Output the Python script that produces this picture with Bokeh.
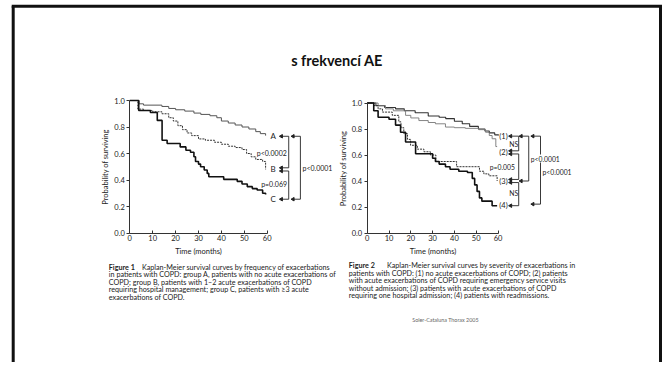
import numpy as np
from bokeh.plotting import figure
from bokeh.models import Range1d, LinearAxis, FixedTicker, PrintfTickFormatter
from bokeh.core.properties import value
from bokeh.embed import file_html
from bokeh.resources import INLINE

# ---------------- data ----------------
TITLE = "s frekvencí AE"
X_TICKS = [0, 10, 20, 30, 40, 50, 60]
Y_TICKS = [0.0, 0.2, 0.4, 0.6, 0.8, 1.0]
X_LABEL = "Time (months)"
Y_LABEL = "Probability of surviving"

# Figure 1 : groups by frequency of exacerbations
f1_A_t = [0, 4, 6, 14, 17, 20, 24, 28, 31, 35, 38, 40, 43, 46, 49, 52, 55, 57, 59.3]
f1_A_s = [1.0, 0.975, 0.965, 0.955, 0.94, 0.93, 0.92, 0.905, 0.895, 0.885, 0.87, 0.845, 0.83, 0.815, 0.80, 0.785, 0.765, 0.75, 0.735]
f1_B_t = [0, 3.5, 6, 10, 14, 17, 19, 21, 23, 25, 27, 30, 33, 37, 40, 43, 46, 49, 51, 53, 55, 58, 59.3, 59.3]
f1_B_s = [1.0, 0.935, 0.925, 0.915, 0.90, 0.87, 0.845, 0.81, 0.78, 0.755, 0.735, 0.71, 0.70, 0.685, 0.67, 0.655, 0.645, 0.63, 0.60, 0.575, 0.555, 0.54, 0.54, 0.48]
f1_C_t = [0, 3.9, 9, 12, 14.1, 16.3, 22, 24.5, 26.5, 28, 28.7, 30, 30.9, 32.5, 33.8, 34.5, 41, 46.9, 49, 51.3, 53.5, 55.6, 58, 59.3]
f1_C_s = [1.0, 0.925, 0.91, 0.85, 0.70, 0.675, 0.65, 0.625, 0.61, 0.575, 0.54, 0.52, 0.50, 0.475, 0.45, 0.425, 0.405, 0.39, 0.37, 0.35, 0.335, 0.325, 0.30, 0.29]
f1_groups = ["A", "B", "C"]
f1_group_level = [0.73, 0.48, 0.255]
f1_pvalues = ["p<0.0002", "p=0.069", "p<0.0001"]

# Figure 2 : groups by severity of exacerbations
f2_1_t = [0, 4, 8, 13, 17, 22, 28, 33, 36, 40, 43.6, 47, 51, 54, 56, 58.5, 60.2]
f2_1_s = [1.0, 0.98, 0.965, 0.955, 0.94, 0.925, 0.90, 0.89, 0.88, 0.86, 0.84, 0.82, 0.80, 0.785, 0.77, 0.755, 0.75]
f2_2_t = [0, 5, 8.4, 12, 17.6, 20, 23.7, 28, 31.3, 35.9, 40, 45, 51.2, 54.3, 56, 57.3, 59, 59.6]
f2_2_s = [1.0, 0.98, 0.955, 0.94, 0.905, 0.885, 0.865, 0.85, 0.84, 0.815, 0.81, 0.805, 0.795, 0.775, 0.75, 0.725, 0.665, 0.665]
f2_3_t = [0, 3, 5, 7, 11.5, 14.5, 15.5, 16.8, 18.5, 19.9, 23, 26, 29, 31.5, 41, 51.5, 53.5, 55.8, 59.6, 59.6]
f2_3_s = [1.0, 0.98, 0.955, 0.93, 0.905, 0.855, 0.81, 0.765, 0.72, 0.675, 0.645, 0.625, 0.60, 0.55, 0.51, 0.475, 0.455, 0.44, 0.44, 0.40]
f2_4_t = [0, 3, 5, 10, 13, 15.3, 17.6, 22.2, 30, 31.3, 33, 35.9, 38, 42, 46, 48.2, 49.3, 50.4, 51.5, 52.6, 57.3, 59.6]
f2_4_s = [1.0, 0.94, 0.89, 0.875, 0.83, 0.775, 0.70, 0.61, 0.575, 0.55, 0.53, 0.51, 0.49, 0.475, 0.465, 0.42, 0.37, 0.32, 0.27, 0.245, 0.21, 0.21]
f2_groups = ["(1)", "(2)", "(3)", "(4)"]
f2_group_level = [0.745, 0.62, 0.40, 0.21]
f2_tests = ["NS", "p=0.005", "NS", "p<0.0001", "p<0.0001"]

caption1_head = "Figure 1"
caption1 = [
    "Kaplan-Meier survival curves by frequency of exacerbations",
    "in patients with COPD: group A, patients with no acute exacerbations of",
    "COPD; group B, patients with 1\u20132 acute exacerbations of COPD",
    "requiring hospital management; group C, patients with \u22653 acute",
    "exacerbations of COPD.",
]
caption2_head = "Figure 2"
caption2 = [
    "Kaplan-Meier survival curves by severity of exacerbations in",
    "patients with COPD: (1) no acute exacerbations of COPD; (2) patients",
    "with acute exacerbations of COPD requiring emergency service visits",
    "without admission; (3) patients with acute exacerbations of COPD",
    "requiring one hospital admission; (4) patients with readmissions.",
]
SOURCE = "Soler-Cataluna Thorax 2005"

# ---------------- layout ----------------
W, H = 667, 362
PX0, PY0 = 0, 0            # page offset of the canvas
FONT = "Lato"
INK = "#222222"

p = figure(width=W, height=H, output_backend="svg", toolbar_location=None,
           x_axis_type=None, y_axis_type=None,
           x_range=Range1d(PX0, PX0 + W), y_range=Range1d(PY0 + H, PY0),
           min_border=0, min_border_left=0, min_border_right=0,
           min_border_top=0, min_border_bottom=0)
p.outline_line_color = None
p.background_fill_color = "white"
p.border_fill_color = "white"

# panel geometry: (origin page x, origin page y, px per month, px per unit prob)
panels = {
    "f1": (129.3, 232.5, 2.29, 132.5),
    "f2": (366.7, 232.5, 2.18, 130.0),
}
for key, (ox, oy, sx, sy) in panels.items():
    p.extra_x_ranges[key + "x"] = Range1d((PX0 - ox) / sx, (PX0 + W - ox) / sx)
    p.extra_y_ranges[key + "y"] = Range1d((oy - (PY0 + H)) / sy, (oy - PY0) / sy)
    xa = LinearAxis(x_range_name=key + "x", y_range_name=key + "y", fixed_location=0,
                    bounds=(X_TICKS[0], X_TICKS[-1]), ticker=FixedTicker(ticks=X_TICKS),
                    axis_label=X_LABEL)
    ya = LinearAxis(x_range_name=key + "x", y_range_name=key + "y", fixed_location=0,
                    bounds=(Y_TICKS[0], Y_TICKS[-1]), ticker=FixedTicker(ticks=Y_TICKS),
                    formatter=PrintfTickFormatter(format="%.1f"), axis_label=Y_LABEL)
    for ax in (xa, ya):
        ax.axis_line_color = "#333333"
        ax.axis_line_width = 1
        ax.major_tick_line_color = "#333333"
        ax.minor_tick_line_color = None
        ax.major_label_text_font = FONT
        ax.major_label_text_font_size = "7.5px"
        ax.major_label_text_color = INK
        ax.axis_label_text_font = FONT
        ax.axis_label_text_font_size = "7.5px"
        ax.axis_label_text_font_style = "normal"
        ax.axis_label_text_color = INK
    xa.major_tick_in, xa.major_tick_out = 3, 0
    xa.major_label_standoff = 2
    xa.axis_label_standoff = 2
    ya.major_tick_in, ya.major_tick_out = 0, 3
    ya.major_label_standoff = 2
    ya.axis_label_standoff = 1
    p.add_layout(xa, "below")
    p.add_layout(ya, "left")


def km(t, s, key, **kw):
    p.step(t, s, mode="after", x_range_name=key + "x", y_range_name=key + "y", **kw)


def txt(x, y, text, size, key=None, align="center", style="normal", color=INK, **extra):
    kw = {}
    if key:
        kw = dict(x_range_name=key + "x", y_range_name=key + "y")
    p.text(x=x, y=y, text=text, text_font=value(FONT), text_font_size=value(size),
           text_align=align, text_baseline="middle", text_color=color,
           text_font_style=style, **kw, **extra)


def bracket(key, tip, bx, y0, y1):
    p.line([tip, bx, bx, tip], [y0, y0, y1, y1], line_color=INK, line_width=0.9,
           x_range_name=key + "x", y_range_name=key + "y")
    p.scatter([tip, tip], [y0, y1], marker="triangle", angle=np.pi / 2, size=3.5,
              color=INK, x_range_name=key + "x", y_range_name=key + "y")


# ---- Figure 1 curves ----
km(f1_A_t, f1_A_s, "f1", line_color="#555555", line_width=1.0)
km(f1_B_t, f1_B_s, "f1", line_color="#333333", line_width=1.0, line_dash="2 1")
km(f1_C_t, f1_C_s, "f1", line_color="#111111", line_width=1.6)

txt([62.6] * 3, f1_group_level, f1_groups, "8px", key="f1")
d = 0.012
bracket("f1", 66.2, 69.4, f1_group_level[0], f1_group_level[1] + d)
bracket("f1", 66.2, 69.4, f1_group_level[1] - d, f1_group_level[2])
bracket("f1", 71.3, 74.5, f1_group_level[0], f1_group_level[2])
txt([62.0, 63.0], [(f1_group_level[0] + f1_group_level[1]) / 2, (f1_group_level[1] + f1_group_level[2]) / 2],
    f1_pvalues[:2], "7px", key="f1")
txt([75.4], [(f1_group_level[0] + f1_group_level[2]) / 2], f1_pvalues[2:], "7px", key="f1", align="left")

# ---- Figure 2 curves ----
km(f2_1_t, f2_1_s, "f2", line_color="#333333", line_width=1.1)
km(f2_2_t, f2_2_s, "f2", line_color="#777777", line_width=0.9)
km(f2_3_t, f2_3_s, "f2", line_color="#333333", line_width=1.0, line_dash="2 1")
km(f2_4_t, f2_4_s, "f2", line_color="#111111", line_width=1.6)

g = f2_group_level
txt([62.5] * 4, g, f2_groups, "7.5px", key="f2")
bracket("f2", 65.8, 69.5, g[0], g[1] + d)
bracket("f2", 65.8, 69.5, g[1] - d, g[2] + d)
bracket("f2", 65.8, 69.5, g[2] - d, g[3])
bracket("f2", 70.6, 74.1, g[0], g[2])
bracket("f2", 76.0, 79.5, g[0], g[3] + d)
txt([67.2, 62.0, 67.2], [(g[0] + g[1]) / 2, (g[1] + g[2]) / 2, (g[2] + g[3]) / 2],
    [f2_tests[0], f2_tests[1], f2_tests[2]], "6.8px", key="f2")
txt([75.0], [(g[0] + g[2]) / 2], f2_tests[3:4], "6.8px", key="f2", align="left",
    background_fill_color="white")
txt([80.4], [(g[0] + g[3]) / 2 - 0.01], f2_tests[4:], "6.8px", key="f2", align="left")

# ---- slide texts (page coordinates) ----
txt([336.5], [60], [TITLE], "14.5px", color="#111111", style="bold")

LINE_H = 7.6
FS_CAP = "7.2px"
cap_y = [266.5 + i * LINE_H for i in range(5)]
txt([108.3], [cap_y[0]], [caption1_head], FS_CAP, align="left", style="bold")
txt([141.5], [cap_y[0]], [caption1[0]], FS_CAP, align="left")
txt([108.3] * 4, cap_y[1:], caption1[1:], FS_CAP, align="left")

cap2_y = [265.0 + i * LINE_H for i in range(5)]
txt([348.3], [cap2_y[0]], [caption2_head], FS_CAP, align="left", style="bold")
txt([386.5], [cap2_y[0]], [caption2[0]], FS_CAP, align="left")
txt([348.3] * 4, cap2_y[1:], caption2[1:], FS_CAP, align="left")

txt([445], [319], [SOURCE], "5.4px", color="#666666")

# ---- slide frame (open at the bottom) ----
p.segment(x0=[12.7, 11.2, 660.0], y0=[PY0 + H, 5.7, 5.7],
          x1=[12.7, 661.5, 660.0], y1=[5.7, 5.7, PY0 + H],
          line_color="#111111", line_width=3)

open("out.html", "w").write(file_html(p, INLINE))
